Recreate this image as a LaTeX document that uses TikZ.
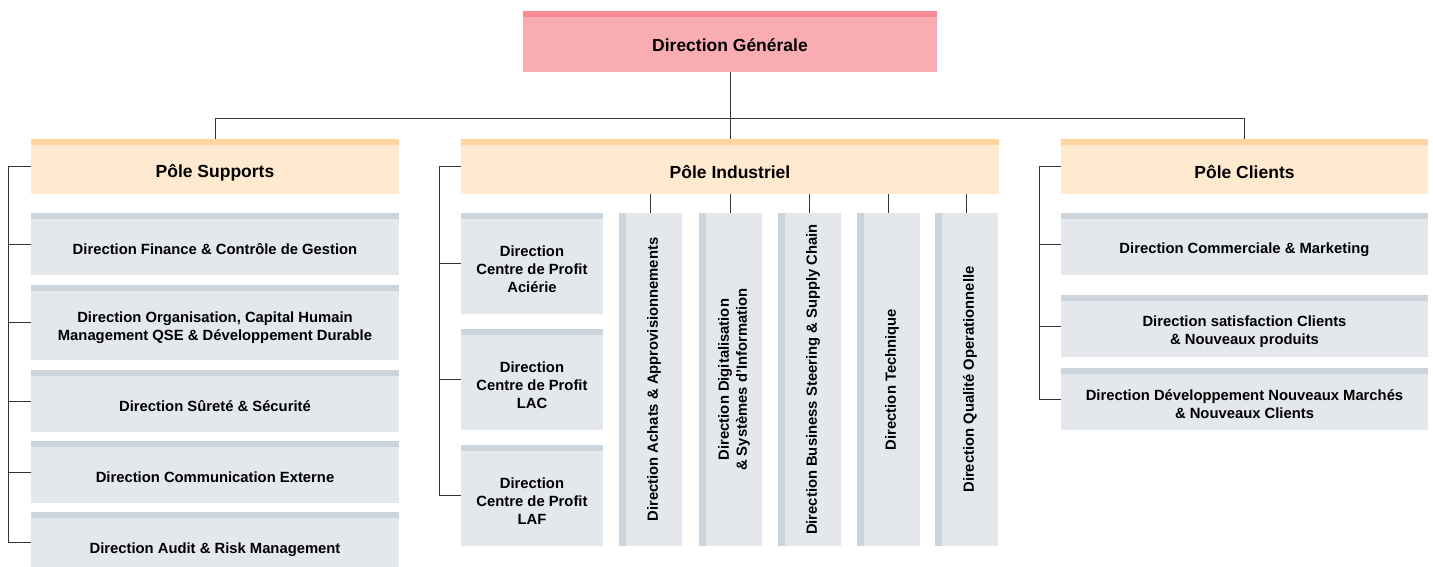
\documentclass[tikz,border=0pt]{standalone}
\usepackage{fontspec}
\setmainfont{Liberation Sans}
\usetikzlibrary{calc}
\definecolor{dgfill}{HTML}{F9ACB2}
\definecolor{dgstripe}{HTML}{F78A93}
\definecolor{polefill}{HTML}{FFE9CF}
\definecolor{polestripe}{HTML}{FFD49E}
\definecolor{boxfill}{HTML}{E4E7EC}
\definecolor{boxstripe}{HTML}{CCD4DC}
\definecolor{linkgray}{HTML}{333333}

\begin{document}
\begin{tikzpicture}
[x=1pt,y=-1pt,
 bigtext/.style={inner sep=0pt,font=\fontsize{17.5}{21}\selectfont\bfseries},
 boxtext/.style={inner sep=0pt,align=center,yshift=-2.5pt,font=\fontsize{14.8}{18}\selectfont\bfseries},
 head/.style={fill=dgfill,inner sep=0pt,label={[bigtext,yshift=-1pt]center:#1}},
 pole/.style={fill=polefill,inner sep=0pt,minimum height=49pt,label={[bigtext,yshift=-3pt]center:#1}},
 hbox/.style={fill=boxfill,inner sep=0pt,label={[boxtext]center:#1}},
 vbox/.style={fill=boxfill,inner sep=0pt,minimum width=56pt,minimum height=333pt},
 vtext/.style={rotate=90,align=center,inner sep=0pt,font=\fontsize{14.8}{18}\selectfont\bfseries},
 link/.style={draw=linkgray,line width=1pt},]

\useasboundingbox (0,0) rectangle (1433,566);

%Box widths
\def\sw{368pt}
\def\cw{142pt}

%Top and poles
\node (DG) at (730,44.5)[head={Direction Générale},minimum width=414pt,minimum height=55pt] {};
\node (PS) at (215,169.5)[pole={Pôle Supports},minimum width=\sw] {};
\node (PI) at (730,169.5)[pole={Pôle Industriel},minimum width=538pt] {};
\node (PC) at (1244.5,169.5)[pole={Pôle Clients},minimum width=367pt] {};

%Pole Supports
\node (S1) at (215,247)[hbox={Direction Finance \& Contrôle de Gestion},minimum width=\sw,minimum height=56pt] {};
\node (S2) at (215,325.5)[hbox={Direction Organisation, Capital Humain\\Management QSE \& Développement Durable},minimum width=\sw,minimum height=69pt] {};
\node (S3) at (215,404)[hbox={Direction Sûreté \& Sécurité},minimum width=\sw,minimum height=56pt] {};
\node (S4) at (215,475)[hbox={Direction Communication Externe},minimum width=\sw,minimum height=56pt] {};
\node (S5) at (215,547)[hbox={Direction Audit \& Risk Management},minimum width=\sw,minimum height=58pt] {};

%Pole Industriel
\node (A1) at (532,266.5)[hbox={Direction\\Centre de Profit\\Aciérie},minimum width=\cw,minimum height=95pt] {};
\node (A2) at (532,382.5)[hbox={Direction\\Centre de Profit\\LAC},minimum width=\cw,minimum height=95pt] {};
\node (A3) at (532,498.5)[hbox={Direction\\Centre de Profit\\LAF},minimum width=\cw,minimum height=95pt] {};
\node (V1) at (654,379.5)[vbox] {};
\node (V2) at (734,379.5)[vbox] {};
\node (V3) at (813,379.5)[vbox] {};
\node (V4) at (892,379.5)[vbox] {};
\node (V5) at (970,379.5)[vbox] {};
\node (T1) at (V1)[vtext] {Direction Achats \& Approvisionnements};
\node (T2) at (V2)[vtext] {Direction Digitalisation\\\& Systèmes d'Information};
\node (T3) at (V3)[vtext] {Direction Business Steering \& Supply Chain};
\node (T4) at (V4)[vtext] {Direction Technique};
\node (T5) at (V5)[vtext] {Direction Qualité Operationnelle};

%Pole Clients
\node (C1) at (1244.5,247)[hbox={Direction Commerciale \& Marketing},minimum width=367pt,minimum height=56pt] {};
\node (C2) at (1244.5,329)[hbox={Direction satisfaction Clients\\\& Nouveaux produits},minimum width=367pt,minimum height=56pt] {};
\node (C3) at (1244.5,402)[hbox={Direction Développement Nouveaux Marchés\\\& Nouveaux Clients},minimum width=367pt,minimum height=56pt] {};

%Stripes
\fill[dgstripe] ([yshift=6pt]DG.north west) rectangle (DG.north east);
\foreach \n in {PS,PI,PC}
  \fill[polestripe] ([yshift=6pt]\n.north west) rectangle (\n.north east);
\foreach \n in {S1,S2,S3,S4,S5,A1,A2,A3,C1,C2,C3}
  \fill[boxstripe] ([yshift=6pt]\n.north west) rectangle (\n.north east);
\foreach \n in {V1,V2,V3,V4,V5}
  \fill[boxstripe] ([xshift=-7pt]\n.north west) rectangle (\n.south west);

%Connectors
\coordinate (bus) at (730,118);
\draw[link] (DG.south) -- ([yshift=6pt]PI.north);
\draw[link] ([yshift=6pt]PS.north) -- (PS.north |- bus) -- (PC.north |- bus) -- ([yshift=6pt]PC.north);

\draw[link] ([yshift=3pt]PS.west) -- ++(-22,0) |- ([yshift=5pt]S5.west);
\foreach \n in {S1,S2,S3,S4}
  \draw[link] ([yshift=3pt]\n.west) -- ++(-22,0);

\draw[link] ([yshift=3pt]PI.west) -- ++(-21,0) |- ([yshift=3pt]A3.west);
\foreach \n in {A1,A2}
  \draw[link] ([yshift=3pt]\n.west) -- ++(-21,0);
\foreach \n in {V1,V2,V3,V4,V5}
  \draw[link] ([xshift=-3.5pt]\n.north) -- ([xshift=-3.5pt]\n.north |- PI.south);

\draw[link] ([yshift=3pt]PC.west) -- ++(-21,0) |- ([yshift=3pt]C3.west);
\foreach \n in {C1,C2}
  \draw[link] ([yshift=3pt]\n.west) -- ++(-21,0);

\end{tikzpicture}
\end{document}
